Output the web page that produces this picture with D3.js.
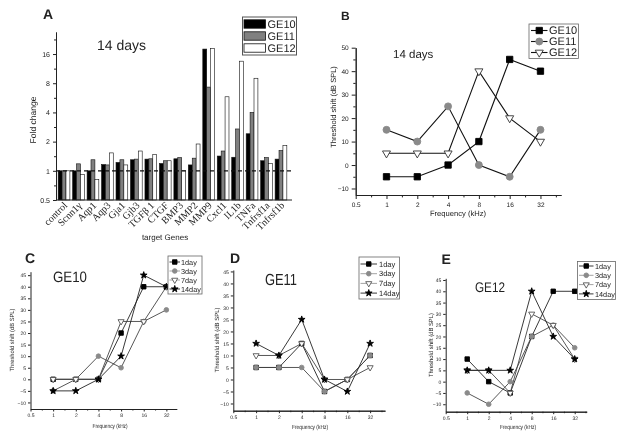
<!DOCTYPE html>
<html><head><meta charset="utf-8">
<script src="https://cdn.jsdelivr.net/npm/d3@7"></script>
<style>body{margin:0;background:#fff}svg{display:block;will-change:transform;transform:translateZ(0)}text{font-family:Arial,"Liberation Sans",sans-serif;fill:#222;text-rendering:geometricPrecision}</style>
</head><body><svg id="c" width="624" height="439"></svg>
<script>
// ---------- DATA ----------
const genes = ["control","Scnn1γ","Aqp1","Aqp3","Gja1","Gjb3","TGFβ 1","CTGF","BMP3","MMP2","MMP9","Cxcl1","IL1b","TNFa","Tnfrsf1a","Tnfrsf1b"];
const seriesA = ["GE10","GE11","GE12"];
const foldGE10 = [1,1.0,1.0,1.16,1.22,1.30,1.32,1.19,1.33,1.15,18.0,1.42,1.38,2.41,1.27,1.32];
const foldGE11 = [1,1.18,1.30,1.15,1.30,1.32,1.33,1.27,1.37,1.35,7.3,1.60,2.70,4.0,1.37,1.62];
const foldGE12 = [1,0.92,0.81,1.53,1.15,1.60,1.48,1.27,1.0,1.89,18.3,5.8,13.5,9.0,1.19,1.83];
const foldTicks = [0.5,1,2,4,8,16];

const freqs = [1,2,4,8,16,32];
const freqTicks = [0.5,1,2,4,8,16,32];
const shiftGE10 = [-5,-5,0,10,45,40];
const shiftGE11 = [15,10,25,0,-5,15];
const shiftGE12 = [5,5,5,40,20,10];
const ticksB = [-10,0,10,20,30,40,50];
const minorB = [-5,5,15,25,35,45];

const days = ["1day","3day","7day","14day"];
const ticksCDE = [-10,-5,0,5,10,15,20,25,30,35,40,45];
const ge10Day1 = [0,0,0,20,40,40];
const ge10Day3 = [-5,0,10,5,25,30];
const ge10Day7 = [0,0,0,25,25,40];
const ge10Day14 = [-5,-5,0,10,45,40];
const ge11Day1 = [5,5,15,-5,0,10];
const ge11Day3 = [5,5,5,-5,0,10];
const ge11Day7 = [10,10,15,0,0,5];
const ge11Day14 = [15,10,25,0,-5,15];
const ge12Day1 = [10,0,-5,20,40,40];
const ge12Day3 = [-5,-10,0,20,25,15];
const ge12Day7 = [5,5,-5,30,25,10];
const ge12Day14 = [5,5,5,40,20,10];

// ---------- DRAW ----------
const svg = d3.select("#c");
const SERIF = "'Liberation Serif','Times New Roman',serif";

function styleAxis(sel, fs){
  sel.selectAll("path,line").attr("stroke","#222").attr("stroke-width",1);
  sel.selectAll("text").style("font-size",fs+"px").attr("fill","#222").style("font-family","Arial,'Liberation Sans',sans-serif");
}
function label(x,y,t,fs,opts={}){
  const e = svg.append("text").attr("x",x).attr("y",y).text(t).style("font-size",fs+"px");
  if(opts.bold) e.style("font-weight","bold");
  if(opts.anchor) e.attr("text-anchor",opts.anchor);
  if(opts.rot) e.attr("transform",`rotate(${opts.rot},${x},${y})`);
  if(opts.len) e.attr("textLength",opts.len).attr("lengthAdjust","spacingAndGlyphs");
  return e;
}

// ---- Panel A ----
(function(){
  const g = svg.append("g");
  const x = d3.scaleBand().domain(genes).range([56,289]).paddingInner(0.19).paddingOuter(0.15);
  const xs = d3.scaleBand().domain(seriesA).range([0,x.bandwidth()]);
  const y = d3.scaleLog().base(2).domain([0.5,27]).range([200,32]);
  const vals = [foldGE10, foldGE11, foldGE12];
  const fills = ["#000","#808080","#fff"];
  seriesA.forEach((s,i)=>{
    g.selectAll(null).data(genes).enter().append("rect")
      .attr("x",d=>x(d)+xs(s)).attr("width",xs.bandwidth())
      .attr("y",(d,j)=>y(vals[i][j])).attr("height",(d,j)=>y(0.5)-y(vals[i][j]))
      .attr("fill",fills[i]).attr("stroke","#111").attr("stroke-width",0.6);
  });
  const ay = g.append("g").attr("transform","translate(56,0)")
    .call(d3.axisLeft(y).tickValues(foldTicks).tickFormat(d=>d).tickSize(3).tickSizeOuter(0).tickPadding(3));
  styleAxis(ay,7);
  const minor = foldTicks.map(d=>d*Math.SQRT2).filter(d=>d<27);
  styleAxis(g.append("g").attr("transform","translate(56,0)")
    .call(d3.axisLeft(y).tickValues(minor).tickFormat("").tickSize(2).tickSizeOuter(0)),7);
  g.append("line").attr("x1",56).attr("x2",292).attr("y1",y(0.5)).attr("y2",y(0.5)).attr("stroke","#222");
  g.append("line").attr("x1",56).attr("x2",292).attr("y1",y(1)).attr("y2",y(1))
    .attr("stroke","#111").attr("stroke-width",1.2).attr("stroke-dasharray","4,3");
  g.selectAll(null).data(genes).enter().append("text")
    .attr("transform",d=>`translate(${x(d)+x.bandwidth()/2+4},206) rotate(-45)`)
    .attr("text-anchor","end").style("font-family",SERIF).style("font-size","10px").text(d=>d);
  // legend
  g.append("rect").attr("x",242.5).attr("y",17).attr("width",54).attr("height",38).attr("fill","#fff").attr("stroke","#555");
  const rows=[24,36,48];
  seriesA.forEach((s,i)=>{
    g.append("rect").attr("x",244).attr("y",rows[i]-4.2).attr("width",21.5).attr("height",8.4)
      .attr("fill",fills[i]).attr("stroke","#111").attr("stroke-width",0.8);
    g.append("text").attr("x",267.5).attr("y",rows[i]+4).text(s).style("font-size","11px");
  });
  label(43,19,"A",14,{bold:true});
  label(97,50,"14 days",14);
  label(36,120,"Fold change",8.5,{anchor:"middle",rot:-90});
  label(165,240,"target Genes",8,{anchor:"middle"});
})();

// ---- line panels ----
const sym = {square:d3.symbolSquare, circle:d3.symbolCircle, tri:d3.symbolTriangle, star:d3.symbolStar};
function marker(g,type,cx,cy,size,fill,stroke){
  g.append("path").attr("d",d3.symbol().type(sym[type]).size(size)())
    .attr("transform",`translate(${cx},${cy})`+(type==="tri"?" rotate(180)":""))
    .attr("fill",fill).attr("stroke",stroke).attr("stroke-width",0.9);
}
function linePanel(o){
  const g = svg.append("g");
  const x = d3.scaleLog().base(2).domain(o.xd).range(o.xr);
  const y = d3.scaleLinear().domain(o.yd).range(o.yr);
  styleAxis(g.append("g").attr("transform",`translate(0,${o.yr[0]})`)
    .call(d3.axisBottom(x).tickValues(freqTicks).tickFormat(d3.format("")).tickSize(o.tk).tickSizeOuter(0).tickPadding(o.pad)), o.fs);
  const xm = freqTicks.map(d=>d*Math.SQRT2).filter(d=>d<o.xd[1]);
  styleAxis(g.append("g").attr("transform",`translate(0,${o.yr[0]})`)
    .call(d3.axisBottom(x).tickValues(xm).tickFormat("").tickSize(o.tk*0.6).tickSizeOuter(0)), o.fs);
  styleAxis(g.append("g").attr("transform",`translate(${o.xr[0]},0)`)
    .call(d3.axisLeft(y).tickValues(o.yTicks).tickSize(o.tk).tickSizeOuter(0).tickPadding(o.pad)), o.fs);
  if(o.yMinor) styleAxis(g.append("g").attr("transform",`translate(${o.xr[0]},0)`)
    .call(d3.axisLeft(y).tickValues(o.yMinor).tickFormat("").tickSize(o.tk*0.6).tickSizeOuter(0)), o.fs);
  const line = d3.line().x((d,j)=>x(freqs[j])).y(d=>y(d));
  o.series.forEach((s,i)=>{
    const st=o.styles[i];
    g.append("path").datum(s).attr("d",line).attr("fill","none").attr("stroke",st.line).attr("stroke-width",o.lw);
    s.forEach((v,j)=>marker(g,st.type,x(freqs[j]),y(v),st.size,st.fill,st.stroke));
  });
  // legend
  const L=o.leg;
  g.append("rect").attr("x",L.x0).attr("y",L.y0).attr("width",L.w).attr("height",L.h).attr("fill","#fff").attr("stroke","#666").attr("stroke-width",0.8);
  o.names.forEach((n,i)=>{
    const st=o.styles[i], ry=L.rows[i];
    g.append("line").attr("x1",L.lx[0]).attr("x2",L.lx[1]).attr("y1",ry).attr("y2",ry).attr("stroke",st.legLine||st.line).attr("stroke-width",o.lw);
    marker(g,st.type,(L.lx[0]+L.lx[1])/2,ry,st.size,st.fill,st.stroke);
    g.append("text").attr("x",L.tx).attr("y",ry+L.fs*0.36).text(n).style("font-size",L.fs+"px");
  });
}

const stylesB = [
  {type:"square",size:40,fill:"#000",stroke:"#000",line:"#111"},
  {type:"circle",size:38,fill:"#8a8a8a",stroke:"#8a8a8a",line:"#111"},
  {type:"tri",size:28,fill:"#fff",stroke:"#333",line:"#111"}
];
linePanel({xd:[0.5,50.8],xr:[355.7,561],yd:[-12.77,50],yr:[195,47.7],yTicks:ticksB,yMinor:minorB,
  tk:4,pad:3,fs:6.5,lw:1.1,series:[shiftGE10,shiftGE11,shiftGE12],styles:stylesB,names:seriesA,
  leg:{x0:529,y0:24,w:49.5,h:34.5,rows:[30.5,41.5,52.5],lx:[531,547.5],tx:549,fs:11}});
label(341,19.5,"B",12,{bold:true});
label(393,58,"14 days",11.5);
label(336,107,"Threshold shift (dB SPL)",7.5,{anchor:"middle",rot:-90});
label(458,216,"Frequency (kHz)",7.6,{anchor:"middle"});

const stylesD = [
  {type:"square",size:20,fill:"#000",stroke:"#000",line:"#222"},
  {type:"circle",size:17,fill:"#8a8a8a",stroke:"#8a8a8a",line:"#444",legLine:"#999"},
  {type:"tri",size:16,fill:"#fff",stroke:"#555",line:"#444",legLine:"#999"},
  {type:"star",size:14,fill:"#000",stroke:"#000",line:"#222"}
];
linePanel({xd:[0.5,43.9],xr:[30.5,176.7],yd:[-12.83,46.5],yr:[409,271.7],yTicks:ticksCDE,
  tk:2.5,pad:2,fs:5,lw:0.9,series:[ge10Day1,ge10Day3,ge10Day7,ge10Day14],styles:stylesD,names:days,
  leg:{x0:168,y0:256,w:34,h:38,rows:[262,271,280,289],lx:[169.5,180],tx:181,fs:7.3}});
label(25,263,"C",14,{bold:true});
label(53,282,"GE10",15,{len:34});
label(14,340,"Threshold shift (dB SPL)",6,{anchor:"middle",rot:-90,len:63});
label(110,428,"Frequency (kHz)",6,{anchor:"middle",len:35});

linePanel({xd:[0.5,50.3],xr:[233.3,385],yd:[-13,45.6],yr:[410.7,270],yTicks:ticksCDE,
  tk:2.5,pad:2,fs:5,lw:0.9,series:[ge11Day1,ge11Day3,ge11Day7,ge11Day14],styles:stylesD,names:days,
  leg:{x0:359,y0:257,w:40.5,h:42,rows:[264,273.7,283.4,293.1],lx:[360.5,377],tx:379,fs:7.5}});
label(230,263,"D",14,{bold:true});
label(265,285,"GE11",16,{len:32});
label(218.5,340,"Threshold shift (dB SPL)",6,{anchor:"middle",rot:-90,len:65});
label(310,429,"Frequency (kHz)",6,{anchor:"middle",len:36});

linePanel({xd:[0.5,47.1],xr:[445.7,586.7],yd:[-13.3,45.75],yr:[411.7,278.3],yTicks:ticksCDE,
  tk:2.5,pad:2,fs:5,lw:0.9,series:[ge12Day1,ge12Day3,ge12Day7,ge12Day14],styles:stylesD,names:days,
  leg:{x0:577.5,y0:261.5,w:38,h:38,rows:[266,275.3,284.6,293.9],lx:[579,593.5],tx:595,fs:7.3}});
label(441.5,264,"E",14,{bold:true});
label(475,291.5,"GE12",14,{len:30});
label(432.5,345,"Threshold shift (dB SPL)",6,{anchor:"middle",rot:-90,len:64});
label(518,429,"Frequency (kHz)",6,{anchor:"middle",len:36});
</script></body></html>
